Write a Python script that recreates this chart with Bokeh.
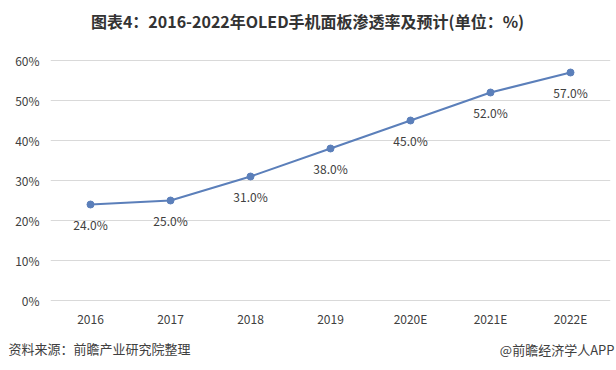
from bokeh.plotting import figure
from bokeh.models import FactorRange, Range1d, Label, ColumnDataSource, FixedTicker
from bokeh.core.properties import value
from bokeh.embed import file_html
from bokeh.resources import INLINE

years = ["2016", "2017", "2018", "2019", "2020E", "2021E", "2022E"]
rates = [24.0, 25.0, 31.0, 38.0, 45.0, 52.0, 57.0]
y_ticks = [0, 10, 20, 30, 40, 50, 60]
title_text = "图表4：2016-2022年OLED手机面板渗透率及预计(单位：%)"
source_text = "资料来源：前瞻产业研究院整理"
brand_text = "@前瞻经济学人APP"

FONT = "Noto Sans CJK SC"
W, H = 616, 370
BL, BR, BT, BB = 50, 6, 52, 66

src = ColumnDataSource(dict(x=years, y=rates, lab=[f"{v:.1f}%" for v in rates]))

p = figure(width=W, height=H, x_range=FactorRange(*years, range_padding=0),
           y_range=Range1d(-1, 62), output_backend="svg", toolbar_location=None,
           min_border_left=BL, min_border_right=BR, min_border_top=BT, min_border_bottom=BB)
p.outline_line_color = None
p.background_fill_color = "white"
p.border_fill_color = "white"

p.line("x", "y", source=src, line_color="#5b7fba", line_width=2)
p.scatter("x", "y", source=src, size=7, fill_color="#5b7fba", line_color="#5b7fba")
p.text("x", "y", text="lab", source=src, y_offset=20, text_align="center", text_baseline="middle",
       text_font=value(FONT), text_font_size="12px", text_color="#404040")

p.yaxis.ticker = FixedTicker(ticks=y_ticks)
p.yaxis.major_label_overrides = {t: f"{t}%" for t in y_ticks}
for ax in (p.xaxis, p.yaxis):
    ax.axis_line_color = None
    ax.major_tick_line_color = None
    ax.minor_tick_line_color = None
    ax.major_tick_out = 0
    ax.major_tick_in = 0
    ax.major_label_text_font = FONT
    ax.major_label_text_font_size = "12px"
    ax.major_label_text_color = "#404040"
p.yaxis.major_label_standoff = 11
p.xaxis.major_label_standoff = 5
p.xgrid.grid_line_color = None
p.ygrid.ticker = FixedTicker(ticks=y_ticks)
p.ygrid.grid_line_color = "#d9d9d9"

p.add_layout(Label(x=257, y=32, x_units="screen", y_units="screen", text=title_text,
                   text_font=FONT, text_font_size="16px", text_font_style="bold",
                   text_color="#333333", text_align="center", text_baseline="middle"), "above")
p.add_layout(Label(x=-42, y=0, x_units="screen", y_units="screen", text=source_text,
                   text_font=FONT, text_font_size="13px", text_color="#404040",
                   text_align="left", text_baseline="middle"), "below")
p.add_layout(Label(x=564, y=18, x_units="screen", y_units="screen", text=brand_text,
                   text_font=FONT, text_font_size="13px", text_color="#404040",
                   text_align="right", text_baseline="middle"), "below")

open("out.html", "w").write(file_html(p, INLINE))
